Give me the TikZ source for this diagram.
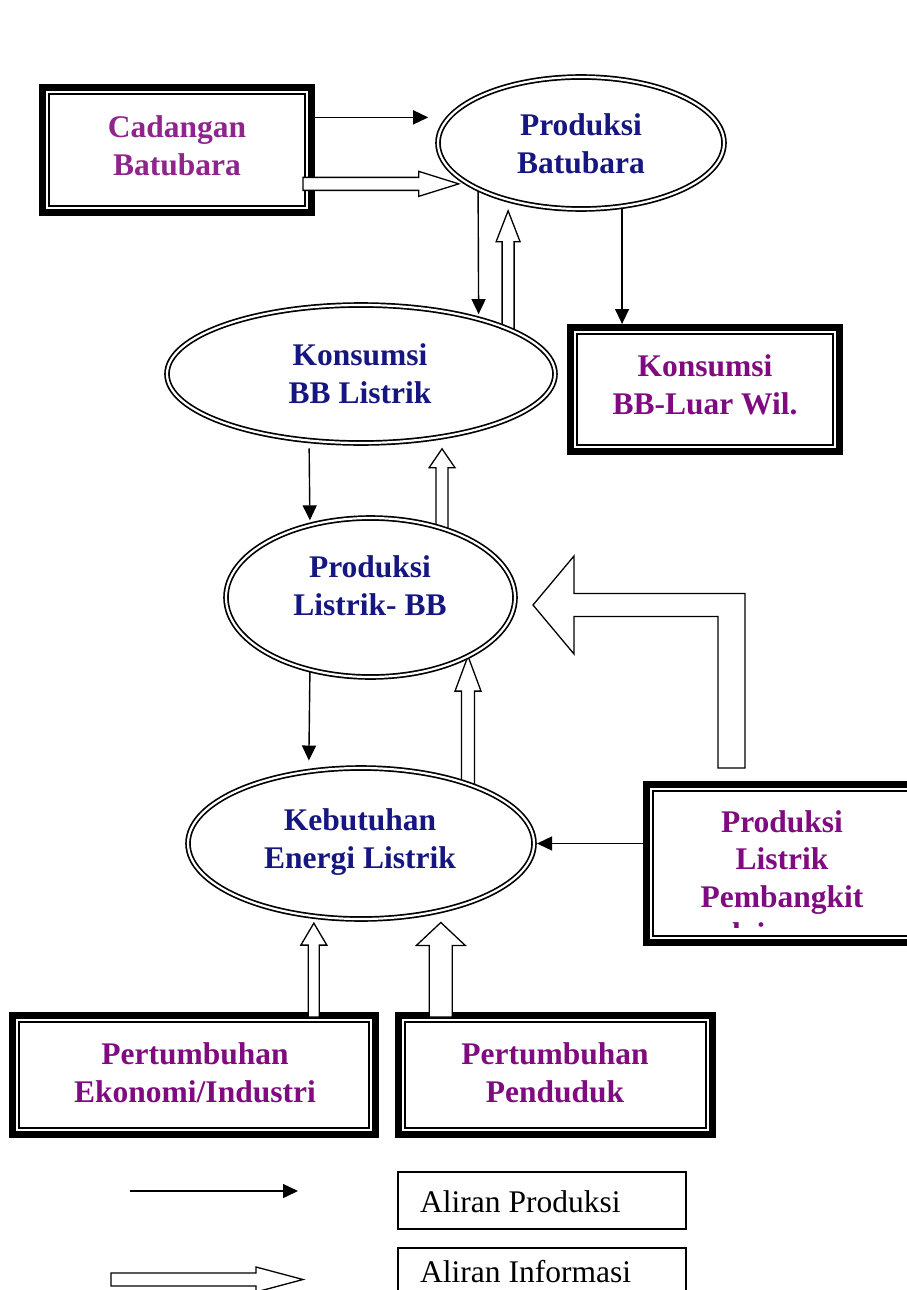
\documentclass[tikz,border=0pt]{standalone}
\usepackage{fontspec}
\setmainfont{Liberation Serif}
\usetikzlibrary{arrows.meta,calc,shapes.geometric}

\definecolor{navyink}{RGB}{22,22,128}
\definecolor{plumink}{RGB}{128,10,128}
\definecolor{orchidink}{RGB}{142,36,140}

\pgfdeclarelayer{frames}
\pgfdeclarelayer{links}
\pgfsetlayers{frames,links,main}

% heavy outer border plus thin inner border round a rectangular node
\newcommand\dblframe[1]{%
  \draw[line width=7pt] ([shift={(3.5,3.5)}]#1.north west) rectangle ([shift={(-3.5,-3.5)}]#1.south east);
  \draw[line width=2pt] ([shift={(10,10)}]#1.north west) rectangle ([shift={(-10,-10)}]#1.south east);}

% hollow block arrow pointing up: base, tip, shaft half-width, head half-width, head length
\newcommand\blockup[6][]{%
  \draw[hollow,#1] let \p1=#2, \p2=#3 in
    (\x1-#4pt,\y1) -- (\x1-#4pt,\y2-#6pt) -- (\x1-#5pt,\y2-#6pt) -- (\x1,\y2)
    -- (\x1+#5pt,\y2-#6pt) -- (\x1+#4pt,\y2-#6pt) -- (\x1+#4pt,\y1) -- cycle;}

% hollow block arrow pointing right: tail, tip, shaft half-width, head half-width, head length
\newcommand\blockright[6][]{%
  \draw[hollow,#1] let \p1=#2, \p2=#3 in
    (\x1,\y1+#4pt) -- (\x2-#6pt,\y1+#4pt) -- (\x2-#6pt,\y1+#5pt) -- (\x2,\y1)
    -- (\x2-#6pt,\y1-#5pt) -- (\x2-#6pt,\y1-#4pt) -- (\x1,\y1-#4pt) -- cycle;}

\begin{document}
\begin{tikzpicture}[x=1pt,y=-1pt,
  oval/.style={ellipse, draw, line width=1.7pt, double=white, double distance=2.2pt, inner sep=0pt, outer sep=0pt},
  boxn/.style={rectangle, inner sep=0pt, outer sep=0pt},
  lbl/.style={font=\fontsize{31.5}{38}\selectfont\bfseries, align=center, inner sep=0pt},
  flow/.style={line width=1.4pt, -{Triangle[length=15pt,width=14pt]}},
  hollow/.style={draw, line width=1.3pt, fill=white, line join=miter},
  keybox/.style={draw, line width=1.4pt, rectangle, minimum width=288pt, minimum height=57pt,
    inner sep=0pt, outer sep=0pt},
  keytext/.style={anchor=base west, inner sep=0pt, font=\fontsize{31.5}{38}\selectfont}]

\useasboundingbox (0,0) rectangle (907,1290);

% rectangular blocks
\node[boxn, minimum width=276pt, minimum height=132pt] (cb)  at (177,150) {};
\node[boxn, minimum width=276pt, minimum height=131pt] (kbw) at (705,389.5) {};
\node[boxn, minimum width=278pt, minimum height=165pt] (plp) at (782,863.5) {};
\node[boxn, minimum width=370pt, minimum height=126pt] (eko) at (194,1075) {};
\node[boxn, minimum width=321pt, minimum height=126pt] (pdd) at (555.5,1075) {};

% elliptical blocks
\node[oval, minimum width=286pt, minimum height=132pt] (pb)  at (581,143) {};
\node[oval, minimum width=388pt, minimum height=138pt] (kbl) at (361,374) {};
\node[oval, minimum width=289pt, minimum height=159pt] (plb) at (370.5,597.5) {};
\node[oval, minimum width=346pt, minimum height=151pt] (keb) at (361,843.5) {};

% labels
\node[lbl, text=orchidink] (cbT)  at (177,146)   {Cadangan\\Batubara};
\node[lbl, text=navyink]   (pbT)  at (581,144)   {Produksi\\Batubara};
\node[lbl, text=plumink]   (kbwT) at (705,384.5) {Konsumsi\\BB-Luar Wil.};
\node[lbl, text=navyink]   (kblT) at (360,373.5) {Konsumsi\\BB Listrik};
\node[lbl, text=navyink]   (plbT) at (370,586)   {Produksi\\Listrik- BB};
\node[lbl, text=navyink]   (kebT) at (360,842)   {Kebutuhan\\Energi Listrik};
\node[lbl, text=plumink]   (ekoT) at (195,1073)  {Pertumbuhan\\Ekonomi/Industri};
\node[lbl, text=plumink]   (pddT) at (555,1073)  {Pertumbuhan\\Penduduk};
\begin{scope}
  \clip (643,781) rectangle (907,927);
  \node[lbl, font=\fontsize{31.5}{37.5}\selectfont\bfseries, text=plumink] (plpT) at (782,881)
    {Produksi\\Listrik\\Pembangkit\\lainnya};
\end{scope}

% legend
\node[keybox] (lgP) at (542,1200.5) {};
\node[keybox, minimum height=60pt] (lgI) at (542,1278) {};
\node[keytext] (lgPT) at (420,1212) {Aliran Produksi};
\node[keytext] (lgIT) at (420,1282) {Aliran Informasi};

\begin{pgfonlayer}{frames}
  \fill[white] (0,0) rectangle (907,1290);
  \dblframe{cb}
  \dblframe{kbw}
  \dblframe{plp}
  \dblframe{eko}
  \dblframe{pdd}
\end{pgfonlayer}

\begin{pgfonlayer}{links}
  % production flows
  \draw[flow, shorten >=21pt] (cb.east |- pb.169) -- (pb.169);
  \draw[flow, shorten >=5pt] (pb.204) -- (kbl.25);
  \draw[flow] (pb.303) -- (pb.303 |- kbw.north);
  \draw[flow, shorten <=8pt, shorten >=5pt] (kbl.232) -- (plb.130);
  \draw[flow, shorten >=11pt] (plb.230) -- (keb.126);
  \draw[flow, shorten >=3pt] (plp.west |- keb.east) -- (keb.east);

  % information flows
  \blockright{($(cb.east |- pb.200)+(-12,0)$)}{($(pb.200)+(-10,0)$)}{6.5}{12.5}{40}
  \blockup{(kbl.17)}{($(pb.217)+(0,11.5)$)}{6}{12}{31}
  \blockup{(plb.44)}{($(kbl.322)+(0,12)$)}{6}{13}{19}
  \blockup{(keb.29)}{(plb.329)}{6.5}{13}{35}
  \blockup{($(keb.237 |- eko.north)+(0,5)$)}{($(keb.237)+(0,7)$)}{5.5}{13}{22}
  \blockup{($(keb.320 |- pdd.north)+(0,5)$)}{($(keb.320)+(0,12)$)}{11.5}{24.5}{23}

  % bent information flow from the other power plants
  \coordinate (Ltail) at ($(plp.north west)+(88.5,-13)$);
  \coordinate (Ltip)  at ($(plb.east)+(18,7.5)$);
  \draw[hollow] let \p1=(Ltail), \p2=(Ltip) in
    (\x1+13.5pt,\y1) -- (\x1+13.5pt,\y2+11.5pt) -- (\x2+41pt,\y2+11.5pt) -- (\x2+41pt,\y2+49pt)
    -- (\x2,\y2) -- (\x2+41pt,\y2-49pt) -- (\x2+41pt,\y2-11.5pt) -- (\x1-13.5pt,\y2-11.5pt)
    -- (\x1-13.5pt,\y1) -- cycle;

  % legend samples
  \coordinate (lgA1) at (130,1191);
  \coordinate (lgA2) at (298,1191);
  \draw[flow] (lgA1) -- (lgA2);
  \coordinate (lgB1) at (111,1279.5);
  \coordinate (lgB2) at (303,1279.5);
  \blockright{(lgB1)}{(lgB2)}{6.5}{12.5}{47}
\end{pgfonlayer}
\end{tikzpicture}
\end{document}
